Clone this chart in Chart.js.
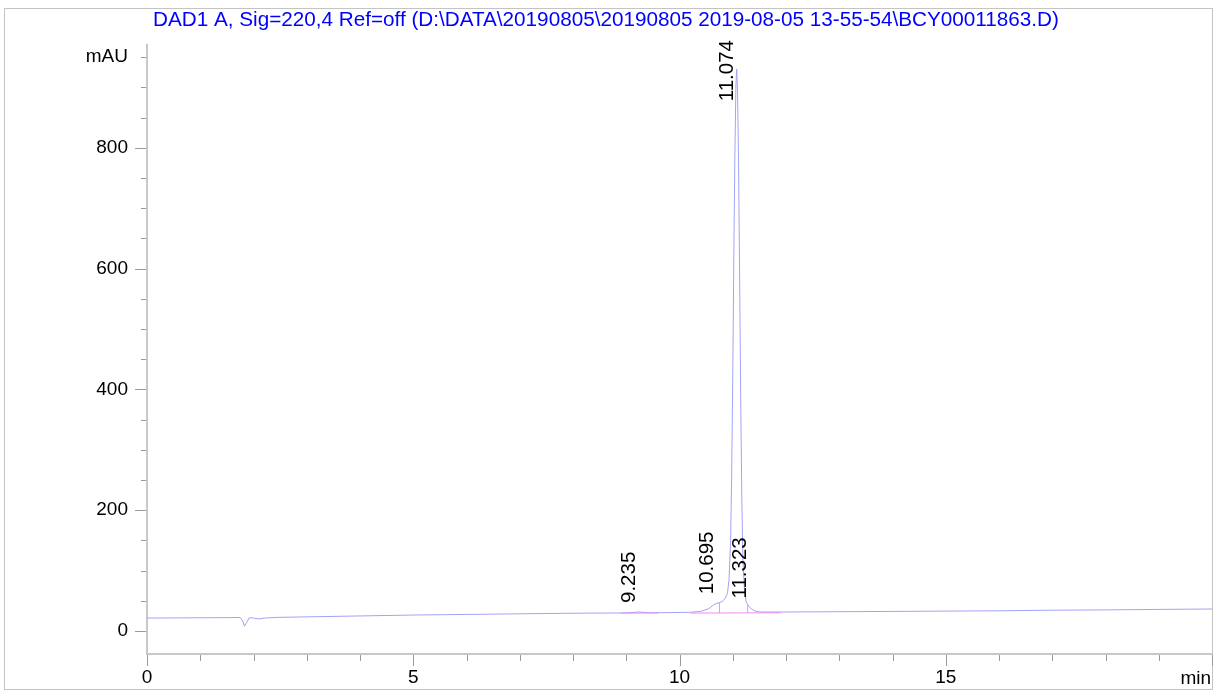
<!DOCTYPE html>
<html>
<head>
<meta charset="utf-8">
<title>DAD1 A, Sig=220,4</title>
<script src="https://cdn.jsdelivr.net/npm/chart.js@4.4.1/dist/chart.umd.min.js"></script>
<style>
    html, body { margin: 0; padding: 0; background: #ffffff; }
    #wrap { width: 1224px; height: 694px; }
</style>
</head>
<body>
<div id="wrap"><canvas id="kromatogram" width="1224" height="694"></canvas></div>
<script>
// Title of the run
const titleText = "DAD1 A, Sig=220,4 Ref=off (D:\\DATA\\20190805\\20190805 2019-08-05 13-55-54\\BCY00011863.D)";

// Signal trace (retention time in min, absorbance in mAU)
const times = [0, 0.5, 1.0, 1.5, 1.75, 1.8, 1.83, 1.87, 1.92, 2.0, 2.1, 2.2, 2.4, 3, 4, 5, 6, 7, 8,
    9.0, 9.235, 9.45, 9.8, 10.2, 10.4, 10.55, 10.65, 10.7, 10.75, 10.8, 10.85, 10.9, 10.93, 10.96, 10.98,
    11.0, 11.02, 11.04, 11.06, 11.074, 11.09, 11.11, 11.13, 11.15, 11.17, 11.19, 11.22, 11.25, 11.28,
    11.32, 11.36, 11.42, 11.5, 12, 13, 14, 15, 16, 17, 18, 19, 20];
const absorbance = [21.5, 21.7, 22, 22.2, 22.5, 16, 8, 14, 22, 21.5, 20, 21.5, 22.5, 23.5, 25, 26.5, 27.5, 28.5, 29.5,
    30, 31.5, 30.2, 30.5, 31, 32.5, 37, 44, 46, 47, 49, 53, 62, 85, 150, 260,
    420, 620, 790, 905, 930, 895, 770, 580, 380, 220, 120, 68, 48, 44,
    39, 36, 33, 31.5, 31.5, 32, 32.5, 33, 33.5, 34.5, 35, 35.8, 36.5];

// Integration baselines and drop lines
const baseline1Times = [8.9, 9.6];
const baseline1Values = [29.6, 29.8];
const baseline2Times = [10.2, 11.9];
const baseline2Values = [29.8, 30.2];
const dropTimes = [10.75, 11.28];
const dropTops = [47, 44];
const dropBottoms = [29.9, 30.1];

// Peak labels (retention time) and apex heights
const peakTimes = [9.235, 10.695, 11.074, 11.323];
const peakLabels = ["9.235", "10.695", "11.074", "11.323"];
const peakHeights = [31.5, 46, 930, 39];

// Axis ranges
const xMin = 0, xMax = 20;
const yMin = -38, yMax = 972;

const fontFamily = "'Liberation Sans', Arial, sans-serif";

function toPoints(xs, ys) {
    return xs.map((x, i) => ({ x: x, y: ys[i] }));
}

// Frame, axis lines, tick marks and the peak labels
const chromPlugin = {
    id: 'chromPlugin',
    beforeDraw(chart) {
        const ctx = chart.ctx;
        ctx.save();
        ctx.fillStyle = '#ffffff';
        ctx.fillRect(0, 0, chart.width, chart.height);
        ctx.strokeStyle = '#c4c4c4';
        ctx.lineWidth = 1;
        ctx.strokeRect(4.5, 8.5, 1208, 681);
        ctx.restore();
    },
    beforeDatasetsDraw(chart) {
        const ctx = chart.ctx;
        const area = chart.chartArea;
        const xs = chart.scales.x;
        const ys = chart.scales.y;
        ctx.save();

        // axis lines
        ctx.strokeStyle = '#c8c8c8';
        ctx.lineWidth = 2;
        ctx.beginPath();
        ctx.moveTo(area.left, area.top);
        ctx.lineTo(area.left, area.bottom);
        ctx.lineTo(area.right, area.bottom);
        ctx.stroke();

        // tick marks
        ctx.strokeStyle = '#9a9a9a';
        ctx.lineWidth = 1;
        ctx.beginPath();
        ys.ticks.forEach(t => {
            const py = Math.round(ys.getPixelForValue(t.value)) + 0.5;
            const len = t.value % 200 === 0 ? 11 : 5;
            ctx.moveTo(area.left - 1, py);
            ctx.lineTo(area.left - 1 - len, py);
        });
        xs.ticks.forEach(t => {
            const px = Math.round(xs.getPixelForValue(t.value)) + 0.5;
            const len = t.value % 5 === 0 ? 11 : 6;
            ctx.moveTo(px, area.bottom + 1);
            ctx.lineTo(px, area.bottom + 1 + len);
        });
        ctx.stroke();

        // unit of the x axis
        ctx.fillStyle = '#000000';
        ctx.font = '19px ' + fontFamily;
        ctx.textAlign = 'right';
        ctx.textBaseline = 'middle';
        ctx.fillText('min', area.right - 1, 679);
        ctx.restore();
    },
    afterDatasetsDraw(chart) {
        const ctx = chart.ctx;
        const xs = chart.scales.x;
        const ys = chart.scales.y;
        ctx.save();
        ctx.fillStyle = '#000000';
        ctx.font = '20.5px ' + fontFamily;
        ctx.textAlign = 'left';
        ctx.textBaseline = 'alphabetic';
        peakTimes.forEach((t, i) => {
            const px = xs.getPixelForValue(t) - 4;
            const w = ctx.measureText(peakLabels[i]).width;
            // label sits above the apex, but is kept inside the top of the plot
            const start = Math.max(ys.getPixelForValue(peakHeights[i]) - 9, 40 + w);
            ctx.save();
            ctx.translate(px, start);
            ctx.rotate(-Math.PI / 2);
            ctx.fillText(peakLabels[i], 0, 0);
            ctx.restore();
        });
        ctx.restore();
    }
};

const pink = '#f28cf2';

const ctx = document.getElementById('kromatogram').getContext('2d');
new Chart(ctx, {
    type: 'line',
    data: {
        datasets: [
            {
                label: 'baseline 1',
                data: toPoints(baseline1Times, baseline1Values),
                borderColor: pink,
                borderWidth: 1,
                pointRadius: 0
            },
            {
                label: 'baseline 2',
                data: toPoints(baseline2Times, baseline2Values),
                borderColor: pink,
                borderWidth: 1,
                pointRadius: 0
            },
            {
                label: 'drop 1',
                data: toPoints([dropTimes[0], dropTimes[0]], [dropBottoms[0], dropTops[0]]),
                borderColor: pink,
                borderWidth: 1,
                pointRadius: 0
            },
            {
                label: 'drop 2',
                data: toPoints([dropTimes[1], dropTimes[1]], [dropBottoms[1], dropTops[1]]),
                borderColor: pink,
                borderWidth: 1,
                pointRadius: 0
            },
            {
                label: 'DAD1 A',
                data: toPoints(times, absorbance),
                borderColor: '#a2a2f6',
                borderWidth: 1,
                pointRadius: 0,
                tension: 0
            }
        ]
    },
    options: {
        responsive: false,
        animation: false,
        layout: { padding: { left: 0, right: 12, top: 0, bottom: 0 } },
        plugins: {
            legend: { display: false },
            tooltip: { enabled: false },
            title: {
                display: true,
                text: titleText,
                color: '#0000ff',
                font: { family: fontFamily, size: 20.7, weight: 'normal' },
                padding: { top: 8, bottom: 11 }
            }
        },
        scales: {
            x: {
                type: 'linear',
                min: xMin,
                max: xMax,
                grid: { display: false, drawTicks: false },
                border: { display: false },
                ticks: {
                    stepSize: 1,
                    autoSkip: false,
                    maxRotation: 0,
                    padding: 12,
                    color: '#000000',
                    font: { family: fontFamily, size: 19 },
                    callback: v => (v % 5 === 0 && v !== 20) ? String(v) : ''
                },
                afterFit: s => { s.height = 40; }
            },
            y: {
                type: 'linear',
                min: yMin,
                max: yMax,
                grid: { display: false, drawTicks: false },
                border: { display: false },
                ticks: {
                    stepSize: 50,
                    includeBounds: false,
                    autoSkip: false,
                    padding: 19,
                    color: '#000000',
                    font: { family: fontFamily, size: 19 },
                    callback: v => v === 950 ? 'mAU' : (v % 200 === 0 ? String(v) : '')
                },
                afterFit: s => { s.width = 147; }
            }
        }
    },
    plugins: [chromPlugin]
});
</script>
</body>
</html>
